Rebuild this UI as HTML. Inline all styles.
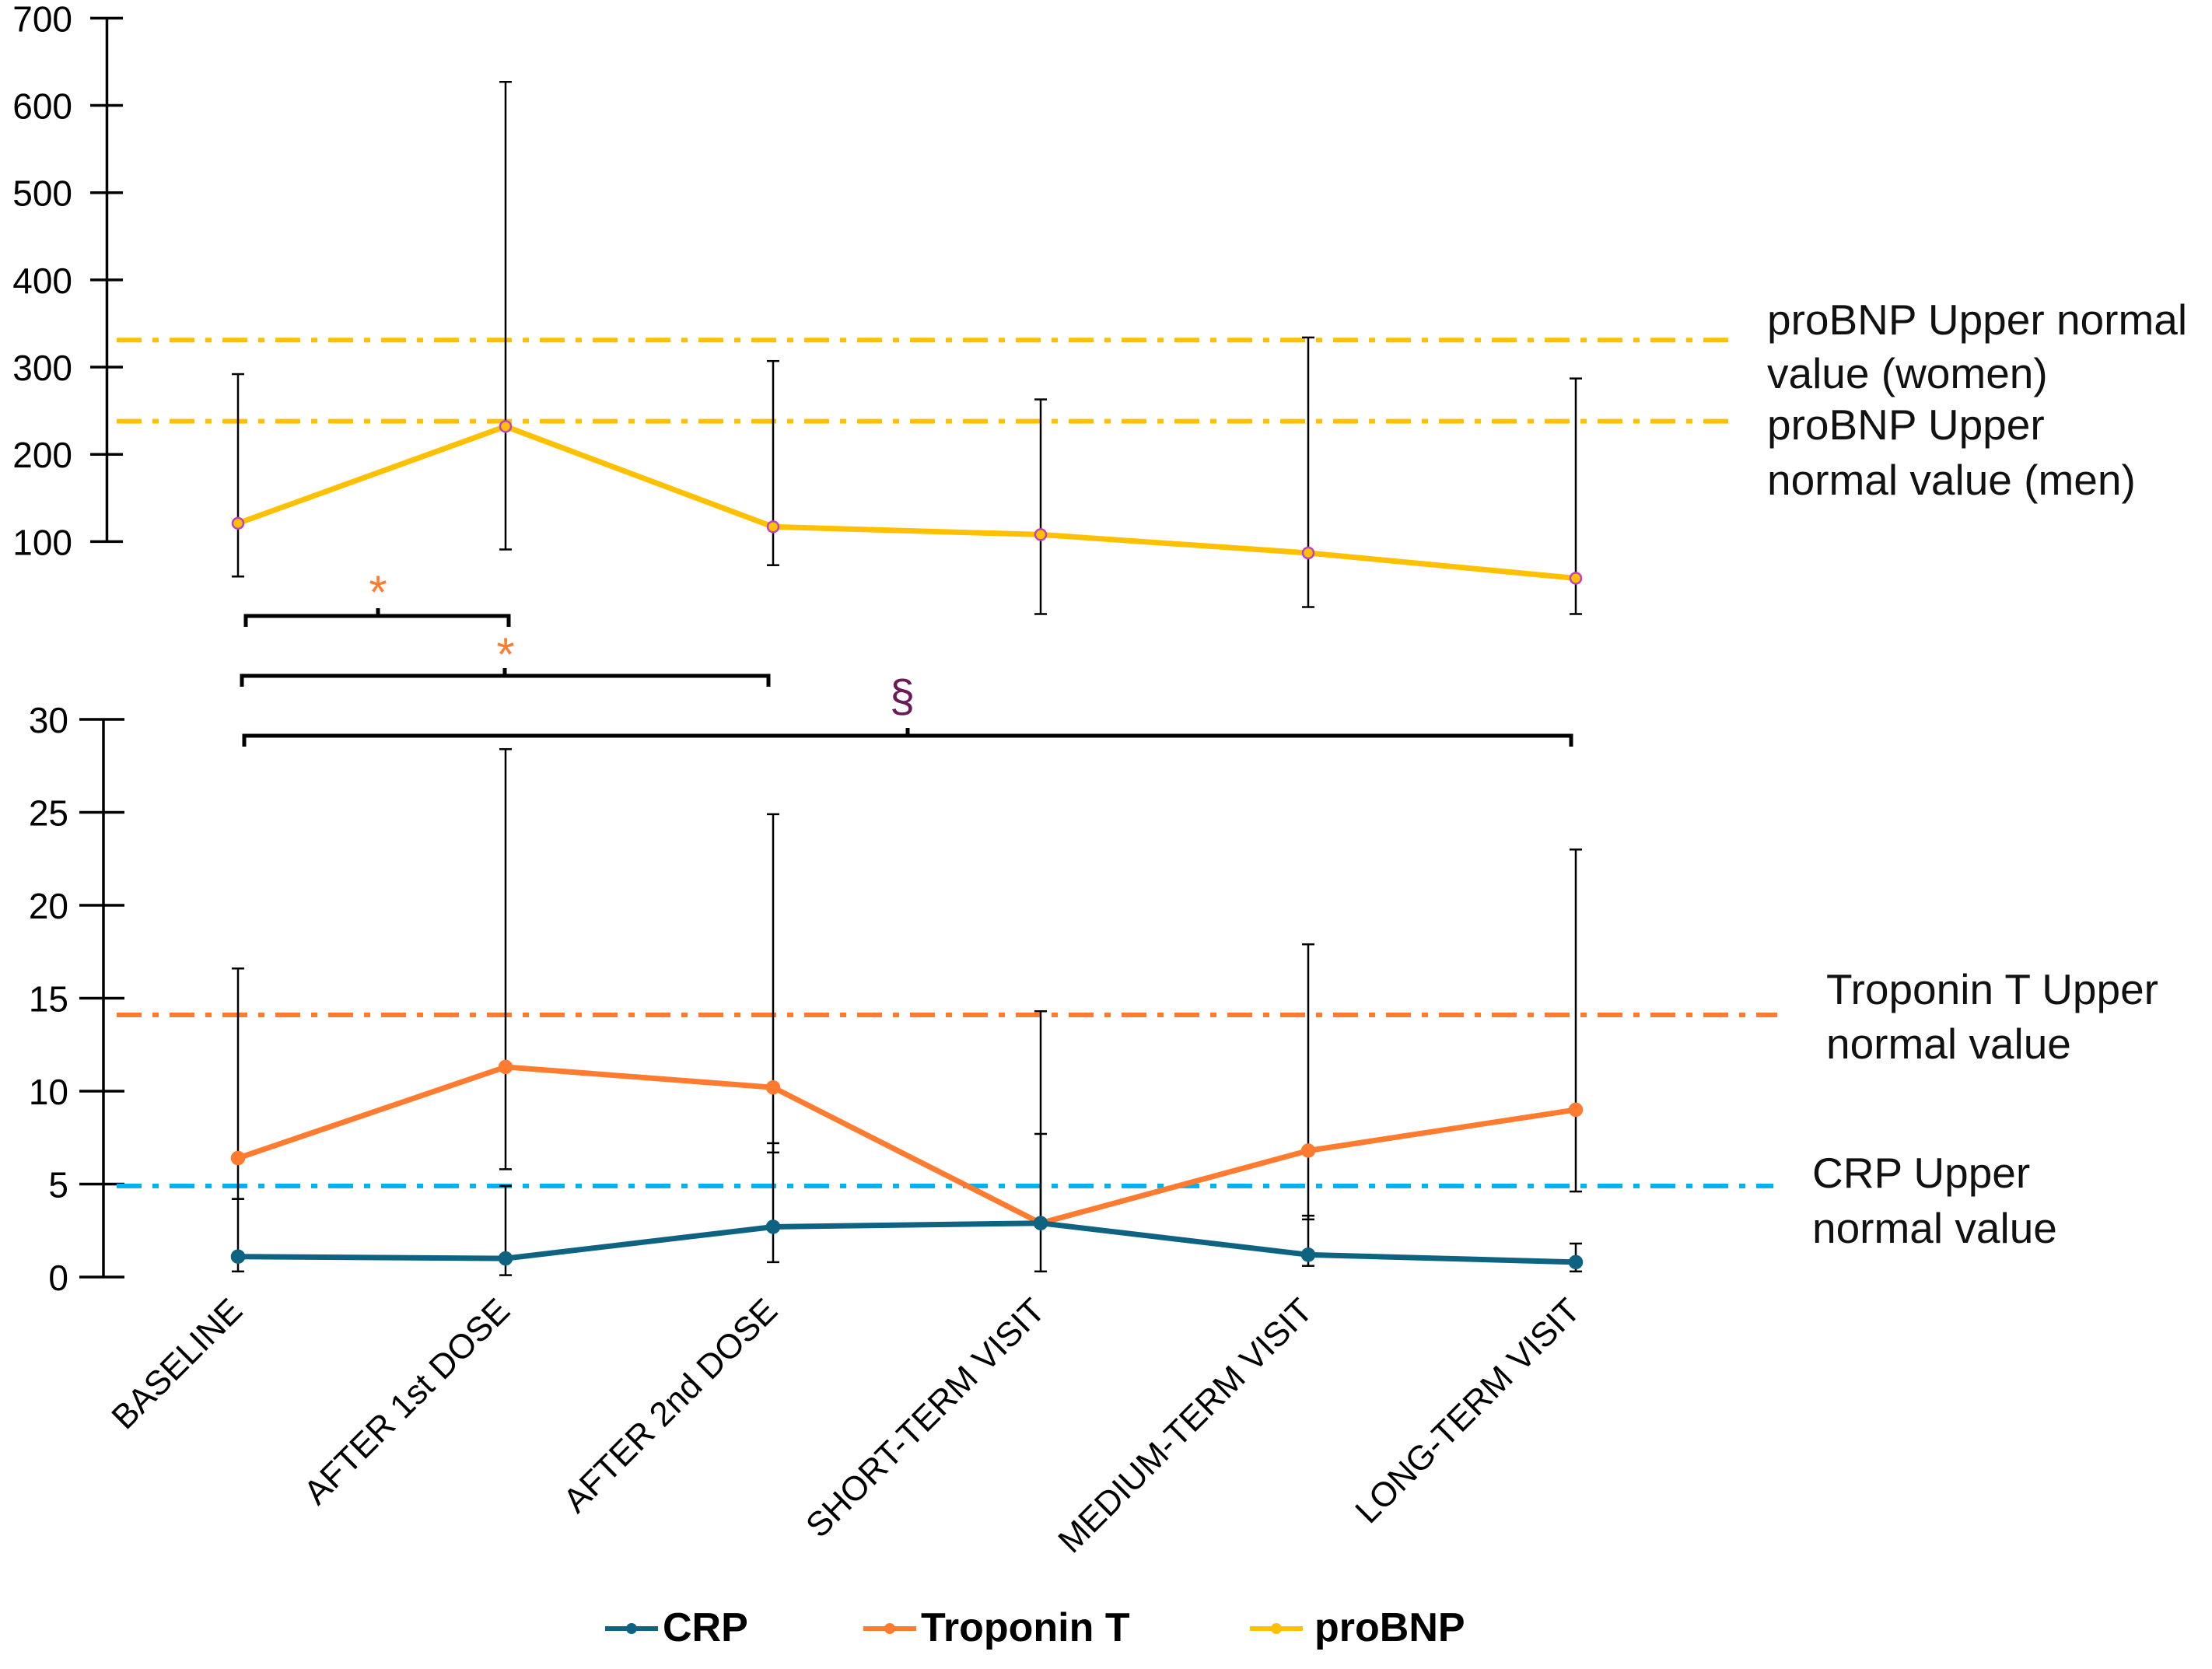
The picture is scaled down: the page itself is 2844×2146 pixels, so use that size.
<!DOCTYPE html>
<html><head><meta charset="utf-8"><style>
html,body{margin:0;padding:0;background:#fff;}
svg{display:block;font-family:"Liberation Sans",sans-serif;}
</style></head><body>
<svg id="chart" width="2844" height="2146" viewBox="0 0 2844 2146" xmlns="http://www.w3.org/2000/svg"></svg>
<script>
const categories=["BASELINE","AFTER 1st DOSE","AFTER 2nd DOSE","SHORT-TERM VISIT","MEDIUM-TERM VISIT","LONG-TERM VISIT"];
const topTicks=[100,200,300,400,500,600,700];
const bottomTicks=[0,5,10,15,20,25,30];
const probnp=[121,232,117,108,87,58];
const probnpHi=[292,627,307,263,334,287];
const probnpLo=[60,91,73,17,25,17];
const troponin=[6.4,11.3,10.2,2.9,6.8,9.0];
const tropHi=[16.6,28.4,24.9,14.3,17.9,23.0];
const tropLo=[4.2,5.8,6.7,2.9,3.1,4.6];
const crp=[1.1,1.0,2.7,2.9,1.2,0.8];
const crpHi=[4.2,4.9,7.2,7.7,3.3,1.8];
const crpLo=[0.3,0.1,0.8,0.3,0.6,0.3];
const probnpRefWomen=331, probnpRefMen=238, tropRef=14.1, crpRef=4.9;

const svg=document.getElementById('chart');
const NS='http://www.w3.org/2000/svg';
function el(tag,attrs,parent){const e=document.createElementNS(NS,tag);for(const k in attrs)e.setAttribute(k,attrs[k]);(parent||svg).appendChild(e);return e;}
const xc=i=>306+344*i;
const yTop=v=>696.4-(v-100)*1.1217;
const yBot=v=>1642-23.9*v;

let g=el('g',{});

el('line',{x1:137.5,y1:yTop(700),x2:137.5,y2:yTop(100),stroke:'#000','stroke-width':3.5},g);
topTicks.forEach(t=>{
 el('line',{x1:116,x2:158,y1:yTop(t),y2:yTop(t),stroke:'#000','stroke-width':3.5},g);
 const tx=el('text',{x:93,y:yTop(t)+17,'text-anchor':'end','font-size':46},g);tx.textContent=t;
 
});
g=el('g',{});

el('line',{x1:133,y1:yBot(30),x2:133,y2:yBot(0),stroke:'#000','stroke-width':3.5},g);
bottomTicks.forEach(t=>{
 el('line',{x1:102,x2:160,y1:yBot(t),y2:yBot(t),stroke:'#000','stroke-width':3.5},g);
 const tx=el('text',{x:88,y:yBot(t)+17,'text-anchor':'end','font-size':46},g);tx.textContent=t;
 
});
function ref(y,x2,color,name){const l=el('line',{x1:150,x2:x2,y1:y,y2:y,stroke:color,'stroke-width':6,'stroke-dasharray':'32,14,8,14'});
 }
ref(yTop(probnpRefWomen),2230,'#FFC000','probnp-ref-women');
ref(yTop(probnpRefMen),2230,'#FFC000','probnp-ref-men');
ref(yBot(tropRef),2285,'#FF7B30','troponin-ref');
ref(yBot(crpRef),2280,'#00B0F0','crp-ref');
function ebar(x,y1,y2,name){const gg=el('g',{stroke:'#000','stroke-width':2.5});
 
 el('line',{x1:x,x2:x,y1:y1,y2:y2},gg);
 el('line',{x1:x-8,x2:x+8,y1:y1,y2:y1},gg);el('line',{x1:x-8,x2:x+8,y1:y2,y2:y2},gg);}
categories.forEach((c,i)=>{
 ebar(xc(i),yTop(probnpHi[i]),yTop(probnpLo[i]),'probnp-error-bar');
 ebar(xc(i),yBot(tropHi[i]),yBot(tropLo[i]),'troponin-error-bar');
 ebar(xc(i),yBot(crpHi[i]),yBot(crpLo[i]),'crp-error-bar');
});
function series(vals,yf,color,w,name,mfill,mstroke,r){
 const p=el('polyline',{points:vals.map((v,i)=>xc(i)+','+yf(v)).join(' '),fill:'none',stroke:color,'stroke-width':w,'stroke-linejoin':'round'});
 
 vals.forEach((v,i)=>{const c=el('circle',{cx:xc(i),cy:yf(v),r:r,fill:mfill,stroke:mstroke,'stroke-width':2.5});
  });
}
series(probnp,yTop,'#FFC000',7,'probnp','#FFC000','#C040C0',7);
series(troponin,yBot,'#FF7B30',7,'troponin','#FF7B30','#FF7B30',8);
series(crp,yBot,'#0E6382',7,'crp','#0E6382','#0E6382',8);
function bracket(x1,x2,y,mid,name){const p=el('path',{d:`M${x1},${y+14} L${x1},${y} L${x2},${y} L${x2},${y+14} M${mid},${y} L${mid},${y-10}`,fill:'none',stroke:'#000','stroke-width':5});
 }
bracket(316,654,792,486,'bracket-baseline-dose1');
bracket(311,988,869,649,'bracket-baseline-dose2');
bracket(314,2020,946,1167,'bracket-baseline-longterm');
function txt(x,y,s,attrs,name){const t=el('text',Object.assign({x:x,y:y},attrs));t.textContent=s;
 return t;}
txt(486,782,'*',{'font-size':60,fill:'#FF7B30','text-anchor':'middle'},'significance-star-1');
txt(650,862,'*',{'font-size':60,fill:'#FF7B30','text-anchor':'middle'},'significance-star-2');
txt(1160,915,'§',{'font-size':58,fill:'#6B1A55','text-anchor':'middle'},'significance-section');
const rl={'font-size':55,fill:'#111'};
txt(2272,430,'proBNP Upper normal',rl,'probnp-women-label');
txt(2272,499,'value (women)',rl,'probnp-women-label-2');
txt(2272,565,'proBNP Upper',rl,'probnp-men-label');
txt(2272,636,'normal value (men)',rl,'probnp-men-label-2');
txt(2348,1291,'Troponin T Upper',rl,'troponin-ref-label');
txt(2348,1361,'normal value',rl,'troponin-ref-label-2');
txt(2330,1527,'CRP Upper',rl,'crp-ref-label');
txt(2330,1598,'normal value',rl,'crp-ref-label-2');
categories.forEach((c,i)=>{const x=xc(i)+8,y=1688;
 const t=el('text',{x:x,y:y,'text-anchor':'end','font-size':44,transform:`rotate(-45 ${x} ${y})`});t.textContent=c;
 });
function leg(x1,x2,tx,color,label,name){const gg=el('g',{});
 
 el('line',{x1:x1,x2:x2,y1:2094,y2:2094,stroke:color,'stroke-width':6},gg);
 el('circle',{cx:(x1+x2)/2,cy:2094,r:7,fill:color},gg);
 const t=el('text',{x:tx,y:2110,'font-size':52,'font-weight':'bold'},gg);t.textContent=label;}
leg(778,846,852,'#0E6382','CRP','legend-crp');
leg(1110,1178,1184,'#FF7B30','Troponin T','legend-troponin');
leg(1607,1675,1690,'#FFC000','proBNP','legend-probnp');
</script>
</body></html>
